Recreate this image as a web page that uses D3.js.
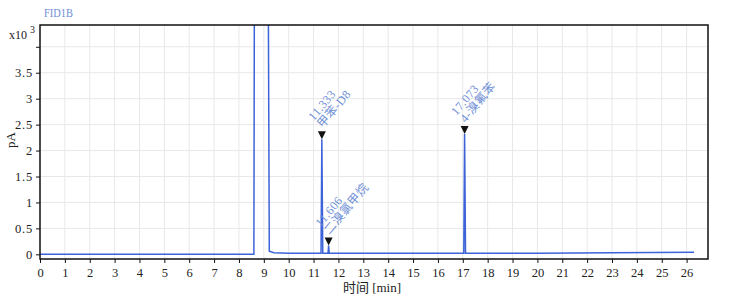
<!DOCTYPE html>
<html>
<head>
<meta charset="utf-8">
<script src="https://cdn.jsdelivr.net/npm/d3@7"></script>
<style>
  body { margin: 0; background: #fff; }
  text { font-family: "Liberation Serif", "Noto Sans CJK SC", serif; }
</style>
</head>
<body>
<svg></svg>
<script>
// retention time (min) and signal (pA x10^3)
const times  = [0, 8.60, 8.62, 9.18, 9.22, 9.40, 10.0, 11.0, 11.30, 11.333, 11.37, 11.40, 11.58, 11.606, 11.63, 11.70, 14.0, 17.04, 17.073, 17.11, 17.20, 20.0, 23.0, 26.3];
const signal = [0, 0,    5.0,  5.0,  0.06, 0.03, 0.02, 0.02, 0.02,  2.22,   0.02,  0.02,  0.02,  0.17,   0.02,  0.02,  0.02, 0.02,  2.32,   0.02,  0.02,  0.02, 0.03, 0.04];

const peakTimes  = [11.333, 11.606, 17.073];
const peakHeight = [2.22, 0.17, 2.32];
const peakNames  = ['甲苯-D8', '二溴氯甲烷', '4-溴氟苯'];

const xTicks = d3.range(0, 27);
const yTicks = [0, 0.5, 1, 1.5, 2, 2.5, 3, 3.5, 4];

const [svgWidth, svgHeight] = [732, 300];
const svg = d3.select('svg')
  .attr('width', svgWidth)
  .attr('height', svgHeight);

const plot = { left: 40, top: 25, right: 708, bottom: 259 };

const x = d3.scaleLinear().domain([0, 26.86]).range([plot.left, plot.right]);
const y = d3.scaleLinear().domain([-0.09, 4.42]).range([plot.bottom, plot.top]);

// title
svg.append('text')
  .attr('x', 44).attr('y', 17)
  .attr('fill', '#6f8ed8')
  .attr('font-size', 13)
  .attr('textLength', 29)
  .attr('lengthAdjust', 'spacingAndGlyphs')
  .text('FID1B');

// grid
svg.append('g')
  .selectAll('line')
  .data(xTicks.filter(d => d > 0))
  .enter().append('line')
  .attr('x1', d => x(d)).attr('x2', d => x(d))
  .attr('y1', plot.top).attr('y2', plot.bottom)
  .attr('stroke', '#e8e8e8');
svg.append('g')
  .selectAll('line')
  .data(yTicks.filter(d => d > 0))
  .enter().append('line')
  .attr('x1', plot.left).attr('x2', plot.right)
  .attr('y1', d => y(d)).attr('y2', d => y(d))
  .attr('stroke', '#e8e8e8');

// chromatogram
svg.append('clipPath').attr('id', 'clip')
  .append('rect')
  .attr('x', plot.left).attr('y', plot.top)
  .attr('width', plot.right - plot.left).attr('height', plot.bottom - plot.top);

const data = times.map((t, i) => [t, signal[i]]);
svg.append('path')
  .datum(data)
  .attr('clip-path', 'url(#clip)')
  .attr('fill', 'none')
  .attr('stroke', '#3d63d9')
  .attr('stroke-width', 1.5)
  .attr('d', d3.line().x(d => x(d[0])).y(d => y(d[1])));

// frame
svg.append('rect')
  .attr('x', plot.left).attr('y', plot.top)
  .attr('width', plot.right - plot.left).attr('height', plot.bottom - plot.top)
  .attr('fill', 'none')
  .attr('stroke', '#111')
  .attr('stroke-width', 1.5);

// axes
const xAxis = svg.append('g')
  .attr('transform', `translate(0, ${plot.bottom})`)
  .call(d3.axisBottom(x).tickValues(xTicks).tickSize(4).tickFormat(d3.format('d')));
xAxis.select('.domain').remove();
xAxis.selectAll('text').attr('font-size', 12.5).attr('fill', '#222').attr('dy', '0.85em');
xAxis.selectAll('line').attr('stroke', '#111');

const yAxis = svg.append('g')
  .attr('transform', `translate(${plot.left}, 0)`)
  .call(d3.axisLeft(y).tickValues(yTicks).tickSize(4)
    .tickFormat(d => d === 4 ? '' : d3.format('~g')(d)));
yAxis.select('.domain').remove();
yAxis.selectAll('text')
  .attr('font-size', 12.5)
  .attr('letter-spacing', 0.8)
  .attr('fill', '#222');
yAxis.selectAll('line').attr('stroke', '#111');

// axis titles
svg.append('text')
  .attr('x', 372).attr('y', 292)
  .attr('text-anchor', 'middle')
  .attr('font-size', 13)
  .attr('fill', '#222')
  .text('时间 [min]');
svg.append('text')
  .attr('transform', 'translate(15, 140) rotate(-90)')
  .attr('text-anchor', 'middle')
  .attr('font-size', 13)
  .attr('fill', '#222')
  .text('pA');
const mult = svg.append('text')
  .attr('x', 9).attr('y', 39)
  .attr('font-size', 12)
  .attr('fill', '#222');
mult.append('tspan').text('x10');
mult.append('tspan').attr('dx', 3).attr('dy', -6).attr('font-size', 10).text('3');

// peak markers and labels
const peaks = peakTimes.map((t, i) => ({ t, h: peakHeight[i], name: peakNames[i] }));
const pg = svg.selectAll('g.peak')
  .data(peaks)
  .enter().append('g')
  .classed('peak', true)
  .attr('transform', d => `translate(${x(d.t)}, ${y(d.h)})`);
pg.append('path')
  .attr('d', 'M-4,-8 L4,-8 L0,0 Z')
  .attr('fill', '#111');
const lbl = pg.append('text')
  .attr('transform', 'translate(-8, -18) rotate(-50)')
  .attr('font-size', 12)
  .attr('letter-spacing', 0.4)
  .attr('fill', '#6f8fd6');
lbl.append('tspan').attr('x', 0).attr('y', 0).text(d => d3.format('.3f')(d.t));
lbl.append('tspan').attr('x', 0).attr('dy', 11.5).text(d => d.name);
</script>
</body>
</html>
